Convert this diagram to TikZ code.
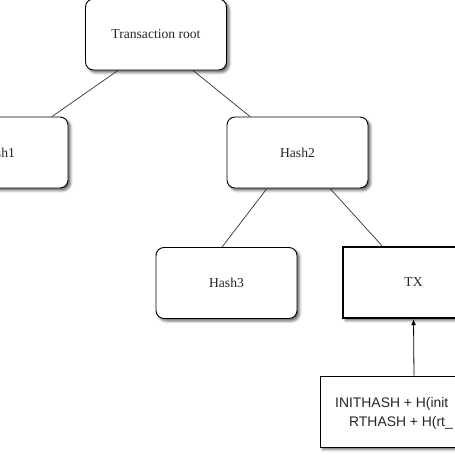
\documentclass[tikz,border=0pt]{standalone}
\usepackage{fontspec}
\setmainfont{Liberation Serif}
\newfontfamily\sansfam{Liberation Sans}
\usetikzlibrary{shadows.blur,arrows.meta}
\begin{document}
\begin{tikzpicture}[x=1pt,y=-1pt,
  box/.style={draw=black,line width=0.9pt,fill=white,rounded corners=8pt,
    minimum width=141pt,minimum height=71pt,inner sep=0pt,
    font=\fontsize{13.6}{15}\selectfont,text=black!85,
    blur shadow={shadow xshift=2.5pt,shadow yshift=-2.5pt,shadow blur radius=2.5pt,shadow opacity=60}},
  txbox/.style={box,rounded corners=0pt,line width=2.4pt},
  plainbox/.style={box,rounded corners=0pt,line width=0.9pt},
  link/.style={draw=black!80,line width=0.7pt},
  sanstext/.style={inner sep=0pt,font=\sansfam\fontsize{13.9}{15}\selectfont,text=black!85}
]
\useasboundingbox (0,0) rectangle (455,455);
\clip (0,0) rectangle (455,455);
\node[box] (root) at (156,34.5) {Transaction root};
\node[box] (h1) at (-2.5,152.5) {Hash1};
\node[box] (h2) at (297.5,152.5) {Hash2};
\node[box] (h3) at (226.5,283) {Hash3};
\node[txbox] (tx) at (413.5,282.5) {TX};
\node[plainbox,minimum width=188pt] (calc) at (414,411.5) {};
\node[sanstext,anchor=base west] (l1) at (335,407.7) {INITHASH + H(init};
\node[sanstext,anchor=base west] (l2) at (349,426.7) {RTHASH + H(rt\_};
\draw[link] ([xshift=-38pt]root.south) -- ([xshift=54.5pt]h1.north);
\draw[link] ([xshift=37pt]root.south) -- ([xshift=-47.5pt]h2.north);
\draw[link] ([xshift=-30.5pt]h2.south) -- ([xshift=-4.5pt]h3.north);
\draw[link] ([xshift=32.5pt]h2.south) -- ([xshift=-31.5pt]tx.north);
\draw[line width=0.8pt,-{Latex[length=6pt,width=5pt]}] (calc.north) -- (tx.south);
\end{tikzpicture}
\end{document}
